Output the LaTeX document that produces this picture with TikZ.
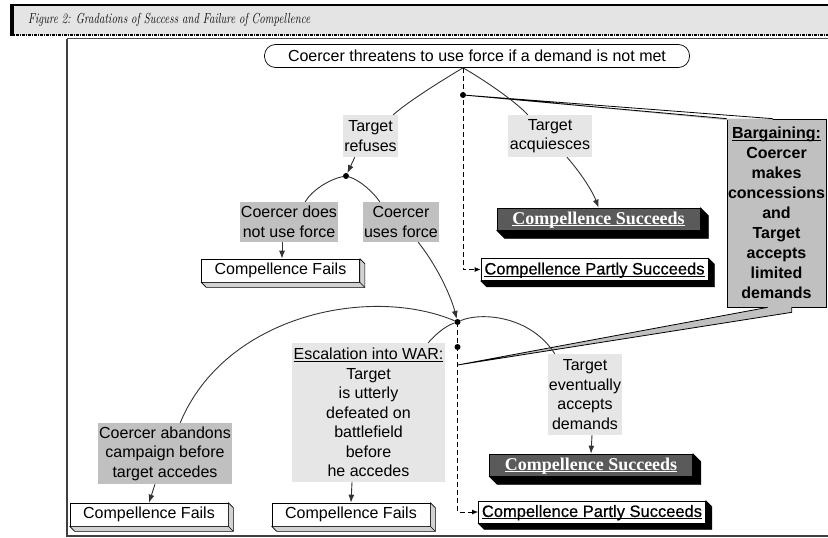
\documentclass[tikz,border=0pt]{standalone}
\usepackage{fontspec}
\setsansfont{Liberation Sans}
\newfontfamily\serifbold{Liberation Serif}
\newfontface\partfont{Liberation Sans}[FakeBold=0.6]
\usetikzlibrary{arrows.meta}
\definecolor{lightlab}{HTML}{E6E6E6}
\definecolor{midlab}{HTML}{C0C0C0}
\definecolor{darkbox}{HTML}{5A5A5A}
\definecolor{hdr}{HTML}{E4E4E4}
\definecolor{bevel}{HTML}{D2D2D2}
\definecolor{lin}{HTML}{333333}
\newcommand\ulin[1]{\underline{\raisebox{0pt}[\height][0pt]{#1}}}
\newcommand\mkdepth[3]{%
  \filldraw[fill=#3, draw=black, line width=0.7pt, line join=round] (#1.south west) -- ++(#2,#2) -- ([shift={(#2,#2)}]#1.south east) -- ([shift={(#2,#2)}]#1.north east) -- (#1.north east) -- (#1.south east) -- cycle;
  \draw[line width=0.7pt] (#1.south east) -- ++(#2,#2);}
\begin{document}
\begin{tikzpicture}[x=1pt,y=-1pt,
  lab/.style={inner sep=0pt, align=center, font=\sffamily\fontsize{16}{19.5}\selectfont},
  lablight/.style={lab, fill=lightlab},
  labmid/.style={lab, fill=midlab},
  failbox/.style={draw=black, fill=white, line width=0.7pt, minimum width=158pt, minimum height=23pt, inner sep=0pt, font=\sffamily\fontsize{16}{19}\selectfont},
  succbox/.style={draw=black, fill=darkbox, line width=0.7pt, minimum width=203pt, minimum height=22pt, inner sep=0pt, text=white, font=\serifbold\bfseries\fontsize{18}{20}\selectfont},
  partbox/.style={draw=black, fill=white, line width=0.7pt, minimum width=227pt, minimum height=22pt, inner sep=0pt, font=\partfont\fontsize{16.5}{19}\selectfont},
  conn/.style={draw=lin, line width=0.9pt},
  arr/.style={conn, -{Latex[length=8pt,width=6pt]}},
  dashconn/.style={draw=black, line width=0.9pt, dash pattern=on 5pt off 3pt},
  dotn/.style={circle, fill=black, inner sep=0pt, minimum size=6pt}
]
\useasboundingbox (0,0) rectangle (828,538);
% header
\fill[hdr] (10,5) rectangle (828,35);
\draw[line width=2pt] (10,5) -- (828,5);
\fill[black] (10,5) rectangle (14,36);
\draw[line width=1.2pt, dash pattern=on 3pt off 1pt on 1pt off 1pt] (10,35) -- (828,35);
\node[anchor=west, inner sep=0pt] (title) at (28,20) {\resizebox{282pt}{\height}{\rmfamily\itshape\fontsize{14.5}{18}\selectfont Figure 2: Gradations of Success and Failure of Compellence}};
% frame
\draw[black!70, line width=0.8pt] (67,38.5) -- (828,38.5);
\draw[black!75, line width=1.2pt] (67,39) -- (67,536) -- (828,536);

% nodes
\node[lab, draw=black, line width=0.7pt, rounded corners=11pt, minimum width=425pt, minimum height=23pt] (top) at (477,56) {Coercer threatens to use force if a demand is not met};
\coordinate (tb) at ([xshift=-14pt]top.south);
\node[lablight, minimum width=55pt, minimum height=42pt] (refuses) at (370.5,136) {Target\\refuses};
\node[lablight, minimum width=84pt, minimum height=42pt] (acq) at (550,136) {Target\\acquiesces};
\node[labmid, minimum width=98pt, minimum height=40pt] (nouse) at (289,222) {Coercer does\\not use force};
\node[labmid, minimum width=76pt, minimum height=40pt] (uses) at (401,222) {Coercer\\uses force};
\node[failbox] (fails1) at (280.5,270.5) {Compellence Fails};
\node[succbox] (succ1) at (598.5,219) {\ulin{Compellence Succeeds}};
\node[partbox] (partly1) at (594.5,269.5) {\ulin{Compellence Partly Succeeds}};
\node[labmid, draw=black, line width=0.7pt, minimum width=99pt, minimum height=188pt, font=\sffamily\bfseries\fontsize{16}{20}\selectfont] (barg) at (776.5,213) {\ulin{Bargaining:}\\Coercer\\makes\\concessions\\and\\Target\\accepts\\limited\\demands};
\node[labmid, minimum width=134pt, minimum height=61pt] (aband) at (165,453.5) {Coercer abandons\\campaign before\\target accedes};
\node[lablight, minimum width=153pt, minimum height=139pt] (war) at (368.5,412.5) {\ulin{Escalation into WAR:}\\Target\\is utterly\\defeated on\\battlefield\\before\\he accedes};
\node[lablight, minimum width=74pt, minimum height=81pt] (evt) at (585,394.5) {Target\\eventually\\accepts\\demands};
\node[succbox] (succ2) at (591,465) {\ulin{Compellence Succeeds}};
\node[partbox] (partly2) at (592,512) {\ulin{Compellence Partly Succeeds}};
\node[failbox] (fails2) at (149,514.5) {Compellence Fails};
\node[failbox] (fails3) at (351,514.5) {Compellence Fails};

\node[dotn] (d1) at (463,95) {};
\node[dotn] (d2) at (346,176) {};
\node[dotn] (d3) at (457.5,322) {};
\node[dotn] (d4) at (457.5,347) {};
\coordinate (w2) at (457.5,365);

% extrusions
\mkdepth{fails1}{5}{bevel}
\mkdepth{fails2}{5}{bevel}
\mkdepth{fails3}{5}{bevel}
\mkdepth{succ1}{8}{black}
\mkdepth{succ2}{8}{black}
\mkdepth{partly1}{6}{black}
\mkdepth{partly2}{6}{black}

% bargaining callout wedges
\fill[midlab] (d1.center) -- (barg.north west) -- ([xshift=46pt]barg.north west) -- ([shift={(46,1.5)}]barg.north west) -- ([shift={(0,1.5)}]barg.north west) -- cycle;
\draw[black, line width=0.8pt] (barg.north west) -- (d1.center) -- ([xshift=46pt]barg.north west);
\fill[midlab] ([xshift=41pt]barg.south west) -- (w2) -- ([shift={(65,5)}]barg.south west) -- ([shift={(65,-1.5)}]barg.south west) -- ([shift={(41,-1.5)}]barg.south west) -- cycle;
\draw[black, line width=0.8pt] ([xshift=41pt]barg.south west) -- (w2) -- ([shift={(65,5)}]barg.south west) -- ([xshift=65pt]barg.south west);

% connectors
\draw[conn] (tb) .. controls (446,78) and (410,100) .. ([xshift=-5pt]refuses.north east);
\draw[conn] (tb) .. controls (481,78) and (514,100) .. ([xshift=20pt]acq.north west);
\draw[arr] ([xshift=12pt]refuses.south west) -- (d2);
\draw[conn] (d2) .. controls (330,179) and (312,190) .. ([xshift=-33pt]nouse.north east);
\draw[conn] (d2) .. controls (360,180) and (374,193) .. ([xshift=17pt]uses.north west);
\draw[arr] ([xshift=-7pt]nouse.south) -- ([xshift=1.5pt]fails1.north);
\draw[arr] ([xshift=17pt]acq.south) .. controls (585,178) and (594,195) .. (succ1.north);
\draw[arr] ([xshift=-21pt]uses.south east) .. controls (440,270) and (452,300) .. (d3);
\draw[dashconn, -{Latex[length=6pt,width=5pt]}] (tb) |- (partly1.west);
\draw[dashconn, -{Latex[length=6pt,width=5pt]}] (d3.center) |- (partly2.west);
\draw[conn] (d3) .. controls (370,285) and (225,315) .. ([xshift=-52pt]aband.north east);
\draw[conn] (d3) .. controls (445,326) and (435,335) .. ([xshift=-17pt]war.north east);
\draw[conn] (d3) .. controls (480,312) and (530,315) .. ([xshift=7pt]evt.north west);
\draw[arr] ([xshift=7pt]evt.south) -- (succ2.north);
\draw[arr] ([xshift=-10pt]aband.south) -- (fails2.north);
\draw[arr] ([xshift=-16.5pt]war.south) -- (fails3.north);
\end{tikzpicture}
\end{document}
